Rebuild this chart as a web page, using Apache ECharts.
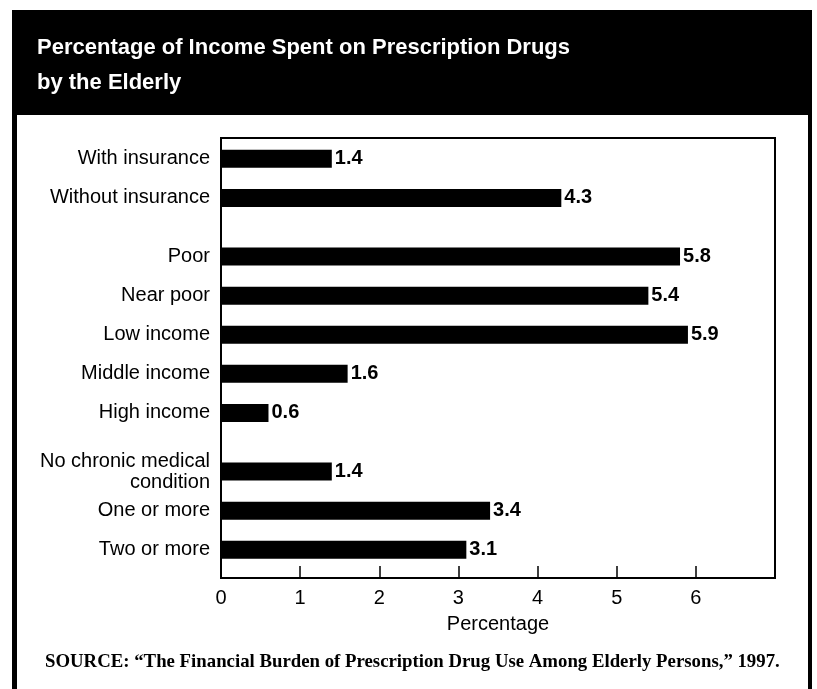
<!DOCTYPE html>
<html>
<head>
<meta charset="utf-8">
<script src="https://cdn.jsdelivr.net/npm/echarts@6/dist/echarts.min.js"></script>
<style>html,body{margin:0;padding:0;background:#fff;}#chart{width:817px;height:689px;}</style>
</head>
<body>
<div id="chart"></div>
<script>
// ---- data ----
const insuranceLabels = ["With insurance", "Without insurance"];
const insuranceValues = [1.4, 4.3];
const incomeLabels = ["Poor", "Near poor", "Low income", "Middle income", "High income"];
const incomeValues = [5.8, 5.4, 5.9, 1.6, 0.6];
const chronicLabels = ["No chronic medical\ncondition", "One or more", "Two or more"];
const chronicValues = [1.4, 3.4, 3.1];
const xTicks = [0, 1, 2, 3, 4, 5, 6];
const titleText = "Percentage of Income Spent on Prescription Drugs\nby the Elderly";
const sourceText = "SOURCE: \u201CThe Financial Burden of Prescription Drug Use Among Elderly Persons,\u201D 1997.";

// ---- build slot lists (each item takes two slots, groups separated by one extra slot) ----
const groups = [[insuranceLabels, insuranceValues], [incomeLabels, incomeValues], [chronicLabels, chronicValues]];
const slotLabels = [], slotValues = [];
groups.forEach(function (g, gi) {
  if (gi > 0) { slotLabels.push(''); slotValues.push('-'); }
  g[0].forEach(function (name, i) {
    slotLabels.push(name); slotValues.push(g[1][i]);
    const isLast = gi === groups.length - 1 && i === g[0].length - 1;
    if (!isLast) { slotLabels.push(''); slotValues.push('-'); }
  });
});

const FONT = "'Liberation Sans', Arial, Helvetica, sans-serif";
const chart = echarts.init(document.getElementById('chart'));
chart.setOption({
  animation: false,
  backgroundColor: '#fff',
  title: {
    text: titleText,
    left: 37, top: 30, padding: 0,
    textStyle: { color: '#fff', fontFamily: FONT, fontWeight: 'bold', fontSize: 22, lineHeight: 35 }
  },
  graphic: [
    { type: 'rect', z: -1, shape: { x: 12, y: 10, width: 800, height: 105 }, style: { fill: '#000' } },
    { type: 'rect', z: -1, shape: { x: 12, y: 10, width: 5, height: 679 }, style: { fill: '#000' } },
    { type: 'rect', z: -1, shape: { x: 808, y: 10, width: 4, height: 679 }, style: { fill: '#000' } },
    { type: 'text', left: 45, top: 653, style: { text: sourceText, fill: '#000', font: "bold 18.8px 'Liberation Serif', 'Times New Roman', serif" } }
  ],
  grid: [
    { left: 221, right: 42, top: 138, bottom: 111, show: true, borderColor: '#000', borderWidth: 2, backgroundColor: 'transparent' },
    { left: 221, right: 42, top: 149, height: 410.6 }
  ],
  xAxis: [
    {
      gridIndex: 0, type: 'value', min: 0, max: 7, interval: 1,
      axisLine: { show: true, lineStyle: { color: '#000', width: 2 } },
      axisTick: { show: true, inside: true, length: 12, lineStyle: { color: '#000', width: 1.5 } },
      splitLine: { show: false },
      axisLabel: { color: '#000', fontFamily: FONT, fontSize: 20, margin: 10,
        formatter: function (v) { return xTicks.indexOf(v) >= 0 ? String(v) : ''; } },
      name: 'Percentage', nameLocation: 'middle', nameGap: 36,
      nameTextStyle: { color: '#000', fontFamily: FONT, fontSize: 20 }
    },
    { gridIndex: 1, type: 'value', min: 0, max: 7, show: false }
  ],
  yAxis: [
    { gridIndex: 0, type: 'value', show: false },
    {
      gridIndex: 1, type: 'category', inverse: true, data: slotLabels,
      axisLine: { show: false }, axisTick: { show: false }, splitLine: { show: false },
      axisLabel: { interval: 0, color: '#000', fontFamily: FONT, fontSize: 20, lineHeight: 21, margin: 11 }
    }
  ],
  series: [{
    type: 'bar', xAxisIndex: 1, yAxisIndex: 1, data: slotValues, barWidth: 18,
    itemStyle: { color: '#000' },
    label: { show: true, position: 'right', distance: 3, color: '#000', fontFamily: FONT, fontWeight: 'bold', fontSize: 20,
      formatter: function (p) { return Number(p.value).toFixed(1); } }
  }]
});
</script>
</body>
</html>
